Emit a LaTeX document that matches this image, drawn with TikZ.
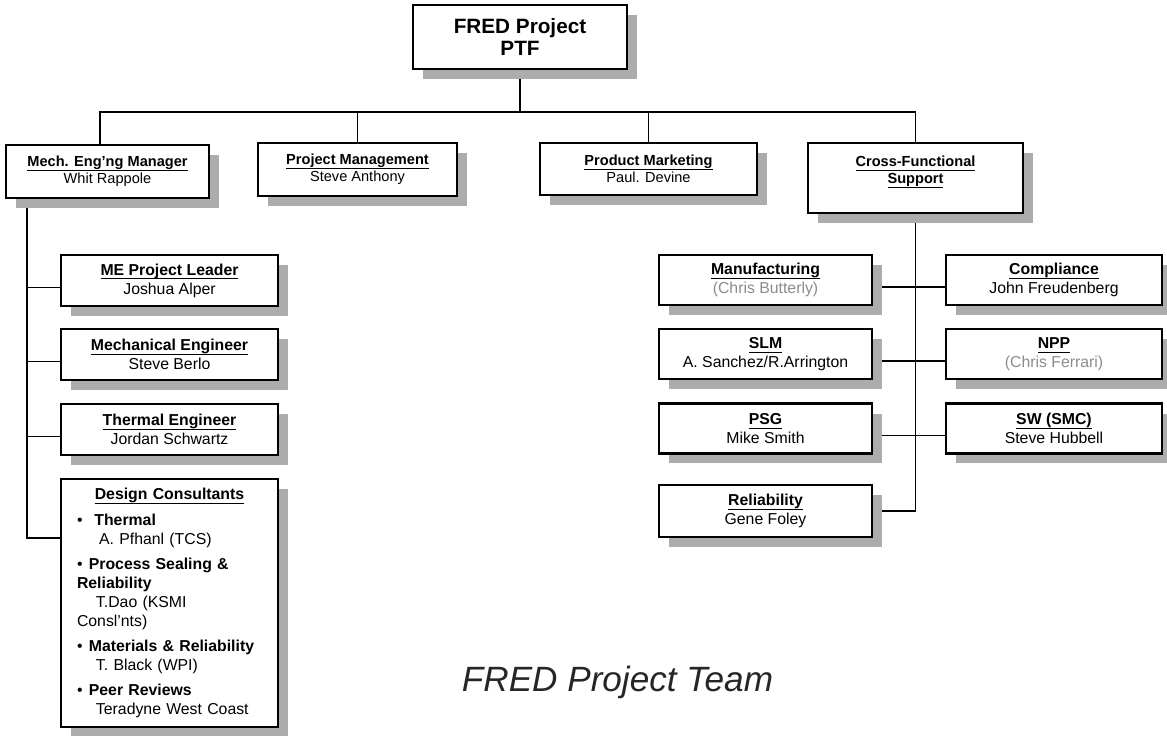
\documentclass[tikz,border=0pt]{standalone}
\usepackage{fontspec}
\setmainfont{Liberation Sans}
\usepackage{tikz}
\usetikzlibrary{shadows, backgrounds}

\newsavebox{\headbox}
\newcommand{\uhead}[1]{\sbox{\headbox}{\bfseries #1}\rlap{\rule[-2.5pt]{\wd\headbox}{0.65pt}}\usebox{\headbox}}

\begin{document}
\begin{tikzpicture}[
    x=0.02cm, y=-0.02cm,
    box/.style={rectangle, draw, fill=white, line width=1.3pt, align=center, inner sep=0pt,
        drop shadow={shadow xshift=0.2cm, shadow yshift=-0.2cm, fill=gray!65, opacity=1}},
    toprow/.style={box, minimum height=1.06cm, font=\fontsize{8.3}{9.6}\selectfont},
    member/.style={box, minimum height=1.02cm, font=\fontsize{9}{10.8}\selectfont},
    link/.style={line width=1pt}
]
    \useasboundingbox (0,0) rectangle (1167,736);

    % Kopf
    \node[box, minimum width=4.28cm, minimum height=1.28cm, font=\fontsize{11.8}{13}\selectfont\bfseries] (ptf) at (520,37) {FRED Project\\PTF};
    \coordinate (bus) at (520,112);

    % erste Ebene
    \node[toprow, minimum width=4.06cm] (mech) at (107.5,171.5) {\uhead{Mech. Eng'ng Manager}\\Whit Rappole};
    \node[toprow, minimum width=3.98cm] (pm) at (357.5,169.5) {\uhead{Project Management}\\Steve Anthony};
    \node[toprow, minimum width=4.34cm, minimum height=1.04cm] (mkt) at (648.5,169) {\uhead{Product Marketing}\\Paul. Devine};
    \node[toprow, minimum width=4.3cm, minimum height=1.4cm] (cfs) at (915.5,178) {\uhead{Cross-Functional}\\\uhead{Support}\\\mbox{}};

    % Mechanik (links)
    \node[member, minimum width=4.34cm] (mel) at (169.5,280.5) {\uhead{ME Project Leader}\\Joshua Alper};
    \node[member, minimum width=4.34cm] (meng) at (169.5,354.5) {\uhead{Mechanical Engineer}\\Steve Berlo};
    \node[member, minimum width=4.34cm] (theng) at (169.5,429.5) {\uhead{Thermal Engineer}\\Jordan Schwartz};
    \node[member, minimum width=4.34cm, minimum height=4.96cm, align=left, text width=3.7cm, inner xsep=0.32cm] (dc) at (169.5,603) {%
        \makebox[3.7cm]{\uhead{Design Consultants}}\\[3.5pt]
        \textbullet\hspace{0.75em}\textbf{Thermal}\\
        \hspace*{1.4em}A. Pfhanl (TCS)\\[3.5pt]
        \textbullet\hspace{0.4em}\textbf{Process Sealing \&}\\
        \textbf{Reliability}\\
        \hspace*{1.2em}T.Dao (KSMI\\
        Consl'nts)\\[3.5pt]
        \textbullet\hspace{0.4em}\textbf{Materials \& Reliability}\\
        \hspace*{1.2em}T. Black (WPI)\\[3.5pt]
        \textbullet\hspace{0.4em}\textbf{Peer Reviews}\\
        \hspace*{1.2em}Teradyne West Coast};

    % Querschnitt (rechts)
    \node[member, minimum width=4.26cm, minimum height=1.0cm] (mfg) at (765.5,280) {\uhead{Manufacturing}\\\textcolor{black!45}{(Chris Butterly)}};
    \node[member, minimum width=4.32cm, minimum height=1.0cm] (comp) at (1054,280) {\uhead{Compliance}\\John Freudenberg};
    \node[member, minimum width=4.26cm, minimum height=1.0cm] (slm) at (765.5,354) {\uhead{SLM}\\A. Sanchez/R.Arrington};
    \node[member, minimum width=4.32cm, minimum height=1.0cm] (npp) at (1054,354) {\uhead{NPP}\\\textcolor{black!45}{(Chris Ferrari)}};
    \node[member, minimum width=4.26cm, minimum height=1.0cm] (psg) at (765.5,428.5) {\uhead{PSG}\\Mike Smith};
    \node[member, minimum width=4.32cm, minimum height=1.0cm] (smc) at (1054,428.5) {\uhead{SW (SMC)}\\Steve Hubbell};
    \node[member, minimum width=4.26cm, minimum height=1.04cm] (rel) at (765.5,511) {\uhead{Reliability}\\Gene Foley};

    % Titel
    \node[font=\fontsize{20}{24}\selectfont\itshape, text=black!85] (team) at (617.5,682) {FRED Project Team};

    % Linien
    \begin{scope}[on background layer]
        \draw[link] (ptf.south) -- (bus);
        \draw[link] ([xshift=-0.15cm]mech.north) |- (bus);
        \draw[link] (pm.north) |- (bus);
        \draw[link] (mkt.north) |- (bus);
        \draw[link] (cfs.north) |- (bus);

        \draw[link] ([xshift=0.44cm]mech.south west) |- ([yshift=1.3cm]dc.west);
        \draw[link] ([yshift=-0.14cm]mel.west) -- ++(-0.66cm,0);
        \draw[link] ([yshift=-0.14cm]meng.west) -- ++(-0.66cm,0);
        \draw[link] ([yshift=-0.14cm]theng.west) -- ++(-0.66cm,0);

        \draw[link] (cfs.south) |- (rel.east);
        \draw[link] ([yshift=-0.14cm]mfg.east) -- ([yshift=-0.14cm]comp.west);
        \draw[link] ([yshift=-0.14cm]slm.east) -- ([yshift=-0.14cm]npp.west);
        \draw[link] ([yshift=-0.14cm]psg.east) -- ([yshift=-0.14cm]smc.west);
    \end{scope}
\end{tikzpicture}
\end{document}
